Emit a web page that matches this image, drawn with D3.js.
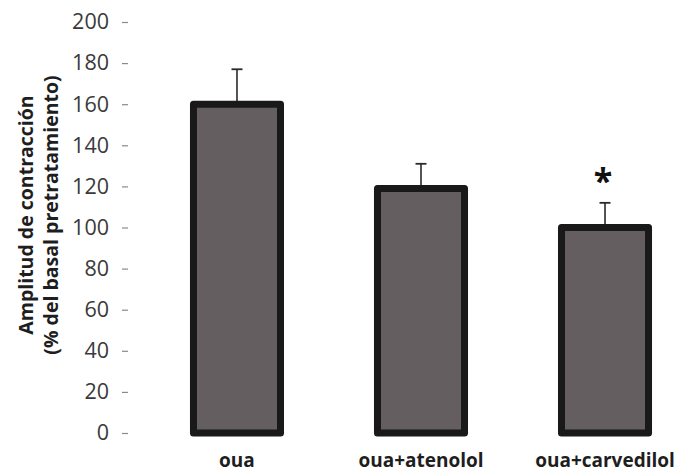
<!DOCTYPE html>
<html>
<head>
<meta charset="utf-8">
<script src="https://cdn.jsdelivr.net/npm/d3@7"></script>
<style>
  html, body { margin: 0; padding: 0; background: #fff; }
  svg { display: block; }
</style>
</head>
<body>
<svg id="chart" width="680" height="472"></svg>
<script>
// Contraction amplitude after pretreatment (% of basal)
const categories = ["oua", "oua+atenolol", "oua+carvedilol"];
const means = [160, 119, 100];
const errors = [17, 12, 12];
const significant = [false, false, true];
const yTicks = [0, 20, 40, 60, 80, 100, 120, 140, 160, 180, 200];
const yTitle = ["Amplitud de contracción", "(% del basal pretratamiento)"];

const svg = d3.select("#chart");
const font = "'Open Sans', 'DejaVu Sans', sans-serif";

const y = d3.scaleLinear().domain([0, 200]).range([433, 22]);
const x = d3.scaleBand().domain(categories).range([96.5, 745.5]).padding(0.527);

// Y axis: tick marks and labels, no domain line
const yAxis = d3.axisLeft(y).tickValues(yTicks).tickSize(6).tickPadding(13);
const gy = svg.append("g").attr("transform", "translate(128,0)").call(yAxis);
gy.select(".domain").remove();
gy.selectAll(".tick line").attr("stroke", "#8a8a8a").attr("stroke-width", 1.2);
gy.selectAll(".tick text")
  .attr("fill", "#3a3a3a")
  .style("font-family", font)
  .style("font-size", "21.5px");

// Y axis title (two lines)
const titleX = [33, 58];
yTitle.forEach((t, i) => {
  svg.append("text")
    .attr("transform", `translate(${titleX[i]},${215}) rotate(-90)`)
    .attr("text-anchor", "middle")
    .attr("fill", "#1e1e1e")
    .style("font-family", font)
    .style("font-weight", "700")
    .style("font-size", "19.5px")
    .text(t);
});

const data = categories.map((c, i) => ({ c, m: means[i], e: errors[i], s: significant[i] }));

// Error bars (upper only)
const eg = svg.append("g");
eg.selectAll("line.err").data(data).join("line")
  .attr("class", "err")
  .attr("x1", d => x(d.c) + x.bandwidth() / 2)
  .attr("x2", d => x(d.c) + x.bandwidth() / 2)
  .attr("y1", d => y(d.m))
  .attr("y2", d => y(d.m + d.e))
  .attr("stroke", "#2a2a2a").attr("stroke-width", 1.6);
eg.selectAll("line.cap").data(data).join("line")
  .attr("class", "cap")
  .attr("x1", d => x(d.c) + x.bandwidth() / 2 - 5.5)
  .attr("x2", d => x(d.c) + x.bandwidth() / 2 + 5.5)
  .attr("y1", d => y(d.m + d.e))
  .attr("y2", d => y(d.m + d.e))
  .attr("stroke", "#2a2a2a").attr("stroke-width", 1.8);

// Bars
svg.append("g").selectAll("rect").data(data).join("rect")
  .attr("x", d => x(d.c))
  .attr("y", d => y(d.m))
  .attr("width", x.bandwidth())
  .attr("height", d => y(0) - y(d.m))
  .attr("fill", "#645e61")
  .attr("stroke", "#191919")
  .attr("stroke-width", 7)
  .attr("stroke-linejoin", "round");

// Significance marker
svg.append("g").selectAll("text").data(data.filter(d => d.s)).join("text")
  .attr("x", d => x(d.c) + x.bandwidth() / 2 - 2)
  .attr("y", d => y(d.m + d.e) - 10)
  .attr("text-anchor", "middle")
  .attr("fill", "#111")
  .style("font-family", font)
  .style("font-weight", "700")
  .style("font-size", "34px")
  .text("*");

// Category labels
svg.append("g").selectAll("text").data(categories).join("text")
  .attr("x", d => x(d) + x.bandwidth() / 2)
  .attr("y", 467)
  .attr("text-anchor", "middle")
  .attr("fill", "#1e1e1e")
  .style("font-family", font)
  .style("font-weight", "700")
  .style("font-size", "19px")
  .text(d => d);
</script>
</body>
</html>
